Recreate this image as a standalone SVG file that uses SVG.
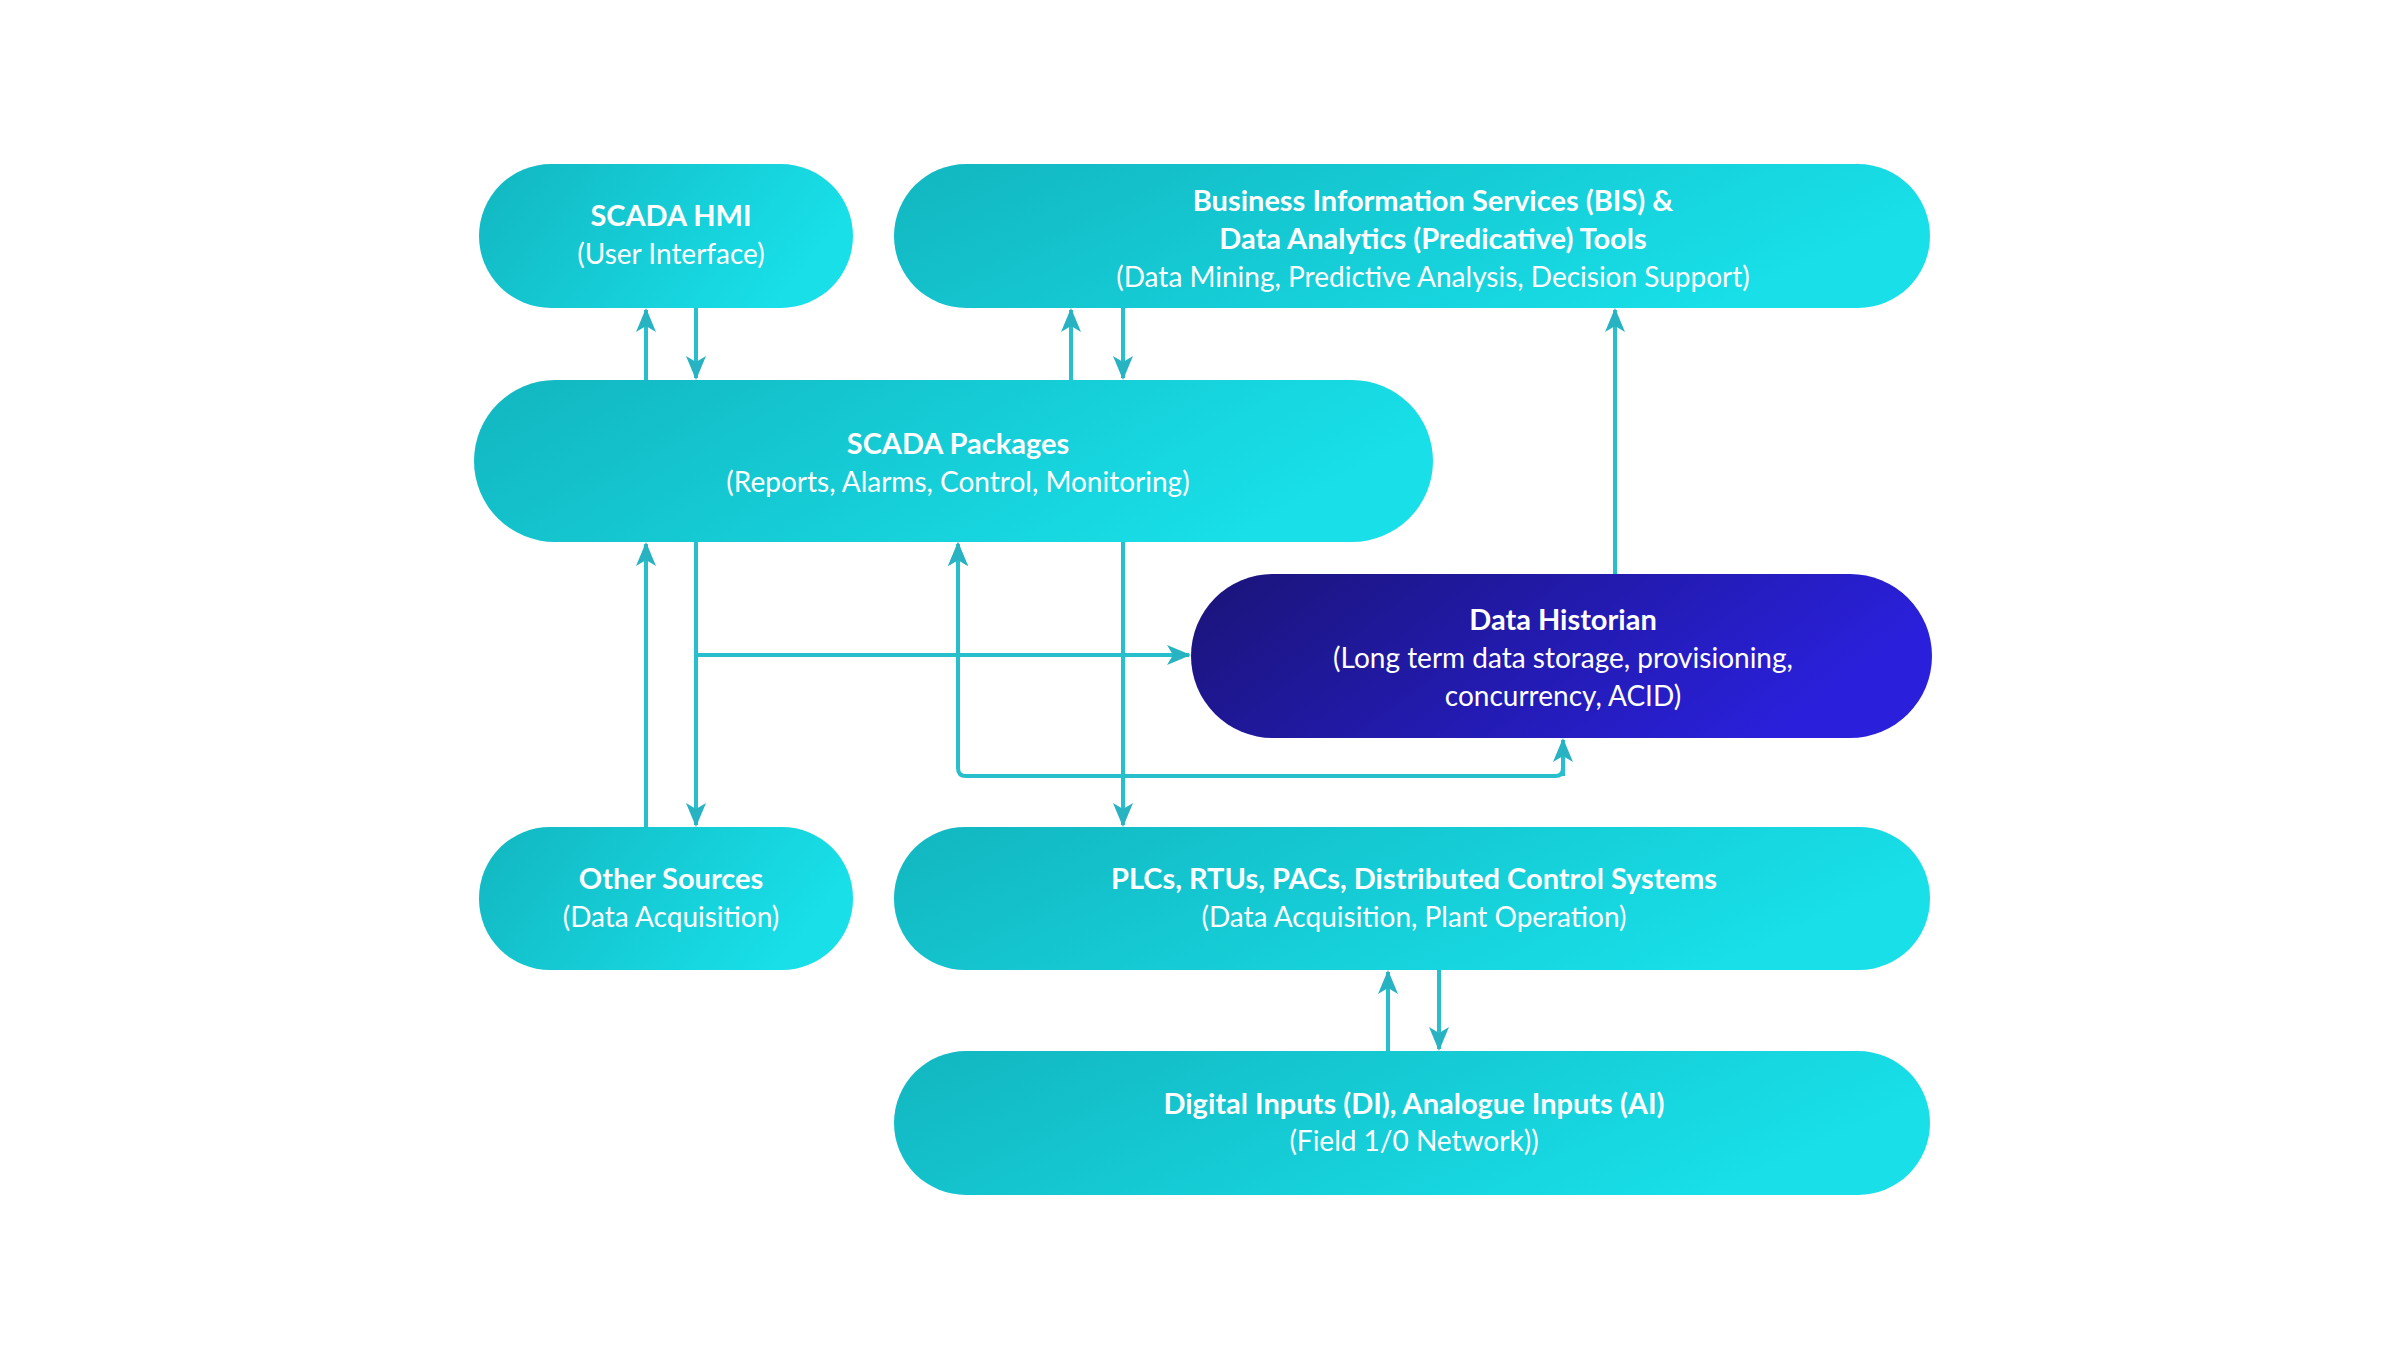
<svg xmlns="http://www.w3.org/2000/svg" width="2400" height="1350" viewBox="0 0 2400 1350">
<defs>
<linearGradient id="teal" x1="0" y1="0" x2="1" y2="0.3"><stop offset="0" stop-color="#12b6c0"/><stop offset="1" stop-color="#18dfe8"/></linearGradient>
<linearGradient id="navy" x1="0" y1="0" x2="1" y2="0.3"><stop offset="0" stop-color="#1a1478"/><stop offset="1" stop-color="#2a20dc"/></linearGradient>
<marker id="ah" markerWidth="12" markerHeight="12" refX="10" refY="6" orient="auto" markerUnits="userSpaceOnUse" viewBox="0 0 12 12"><path d="M0,0 L12,6 L0,12 L3,6 Z" fill="#27b3c2"/></marker>
<style>
.t{fill:#fff;font-family:Lato,"Noto Sans",sans-serif;font-weight:700;font-size:29px;text-anchor:middle;dominant-baseline:central}
.s{fill:#fff;font-family:Lato,"Noto Sans",sans-serif;font-size:28px;text-anchor:middle;dominant-baseline:central}
.c{fill:none;stroke:#27bfcc;stroke-width:4}
</style>
<marker id="a" markerWidth="24" markerHeight="28" refX="22" refY="10" orient="auto" markerUnits="userSpaceOnUse"><path d="M0,0 L24,10 L0,20 L6,10 Z" fill="#27b3c2"/></marker>
</defs>
<rect width="2400" height="1350" fill="#fff"/>
<g id="hmi"><rect x="479" y="164" width="374" height="144" rx="72" fill="url(#teal)"/><text class="t" x="671" y="214">SCADA HMI</text><text class="s" x="671" y="253">(User Interface)</text></g>
<g id="bis"><rect x="894" y="164" width="1036" height="144" rx="72" fill="url(#teal)"/><text class="t" x="1433" y="199">Business Information Services (BIS) &amp;</text><text class="t" x="1433" y="237">Data Analytics (Predicative) Tools</text><text class="s" x="1433" y="276">(Data Mining, Predictive Analysis, Decision Support)</text></g>
<g id="packages"><rect x="474" y="380" width="959" height="162" rx="81" fill="url(#teal)"/><text class="t" x="958" y="442">SCADA Packages</text><text class="s" x="958" y="481">(Reports, Alarms, Control, Monitoring)</text></g>
<g id="historian"><rect x="1191" y="574" width="741" height="164" rx="82" fill="url(#navy)"/><text class="t" x="1563" y="618">Data Historian</text><text class="s" x="1563" y="657">(Long term data storage, provisioning,</text><text class="s" x="1563" y="695">concurrency, ACID)</text></g>
<g id="other"><rect x="479" y="827" width="374" height="143" rx="71" fill="url(#teal)"/><text class="t" x="671" y="877">Other Sources</text><text class="s" x="671" y="916">(Data Acquisition)</text></g>
<g id="plcs"><rect x="894" y="827" width="1036" height="143" rx="71" fill="url(#teal)"/><text class="t" x="1414" y="877">PLCs, RTUs, PACs, Distributed Control Systems</text><text class="s" x="1414" y="916">(Data Acquisition, Plant Operation)</text></g>
<g id="inputs"><rect x="894" y="1051" width="1036" height="144" rx="72" fill="url(#teal)"/><text class="t" x="1414" y="1102">Digital Inputs (DI), Analogue Inputs (AI)</text><text class="s" x="1414" y="1140">(Field 1/0 Network))</text></g>
<g id="connectors">
<path class="c" d="M646,380 V310" marker-end="url(#a)"/>
<path class="c" d="M696,308 V378" marker-end="url(#a)"/>
<path class="c" d="M1071,380 V310" marker-end="url(#a)"/>
<path class="c" d="M1123,308 V378" marker-end="url(#a)"/>
<path class="c" d="M646,827 V544" marker-end="url(#a)"/>
<path class="c" d="M696,542 V825" marker-end="url(#a)"/>
<path class="c" d="M696,655 H1189" marker-end="url(#a)"/>
<path class="c" d="M1123,542 V825" marker-end="url(#a)"/>
<path class="c" d="M1563,740 V768 Q1563,776 1555,776 H966 Q958,776 958,768 V544" marker-end="url(#a)"/>
<path class="c" d="M958,600 V544" marker-end="url(#a)"/>
<path class="c" d="M1563,776 V740" marker-end="url(#a)"/>
<path class="c" d="M1615,574 V310" marker-end="url(#a)"/>
<path class="c" d="M1388,1051 V972" marker-end="url(#a)"/>
<path class="c" d="M1439,970 V1049" marker-end="url(#a)"/>
</g>
</svg>
